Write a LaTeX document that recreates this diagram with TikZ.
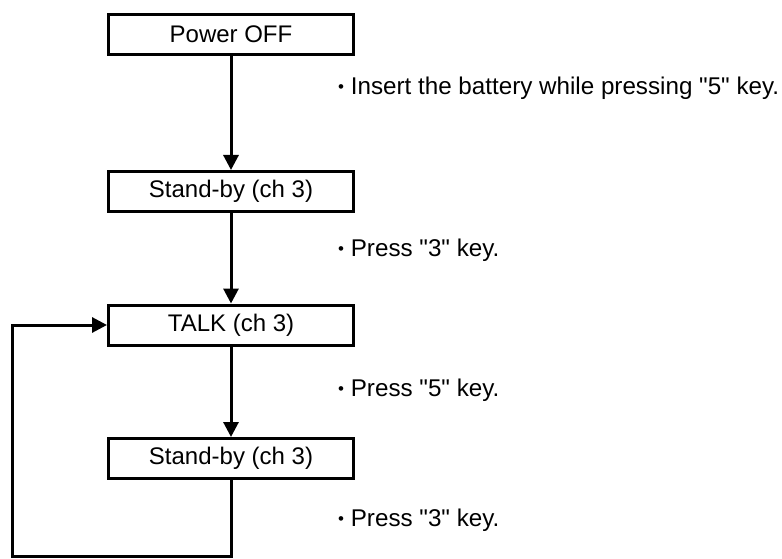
\documentclass[tikz,border=0pt]{standalone}
\usepackage{fontspec}
\setmainfont{Liberation Sans}
\usetikzlibrary{arrows.meta}
\newcommand{\notedot}{\raisebox{0.06em}{\scalebox{0.7}{•}}}
\begin{document}
\begin{tikzpicture}[x=1pt,y=-1pt,
    statebox/.style={draw,line width=3pt,minimum width=245pt,minimum height=40pt,inner sep=0pt,font=\fontsize{24}{27}\selectfont},
    note/.style={anchor=west,inner sep=0pt,font=\fontsize{24.2}{27}\selectfont},
    flow/.style={line width=3pt,-{Triangle[width=15pt,length=15pt]}}]
    \useasboundingbox (0,0) rectangle (782,559);
    \node[statebox] (off) at (231,34.5) {Power OFF};
    \node[statebox] (sb1) at (231,191.5) {Stand-by (ch 3)};
    \node[statebox] (talk) at (231,325) {TALK (ch 3)};
    \node[statebox] (sb2) at (231,458.5) {Stand-by (ch 3)};
    \coordinate (C1) at (231,556);
    \coordinate (C2) at (12,556);
    \coordinate (C3) at (12,325);
    \draw[flow] (off)--(sb1);
    \draw[flow] (sb1)--(talk);
    \draw[flow] (talk)--(sb2);
    \draw[flow] (sb2.south)--(C1)--(C2)--(C3)--(talk.west);
    \node[note] (n1) at (338,88) {\notedot\ Insert the battery while pressing \textquotedbl5\textquotedbl\ key.};
    \node[note] (n2) at (338,250) {\notedot\ Press \textquotedbl3\textquotedbl\ key.};
    \node[note] (n3) at (338,390) {\notedot\ Press \textquotedbl5\textquotedbl\ key.};
    \node[note] (n4) at (338,520) {\notedot\ Press \textquotedbl3\textquotedbl\ key.};
  \end{tikzpicture}
\end{document}
